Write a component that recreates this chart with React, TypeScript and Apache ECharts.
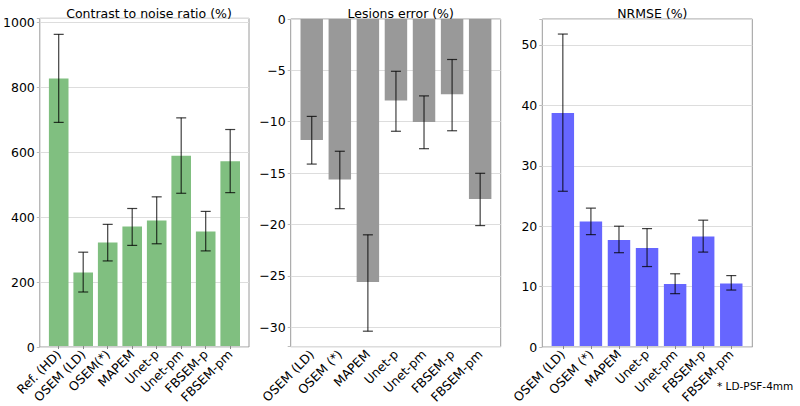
import React, { useEffect, useRef } from "react";
import * as echarts from "echarts";

const cnrCategories = ["Ref. (HD)", "OSEM (LD)", "OSEM(*)", "MAPEM", "Unet-p", "Unet-pm", "FBSEM-p", "FBSEM-pm"];
const cnrValues = [827, 227, 320, 369, 388, 588, 354, 571];
const cnrLow = [691, 167, 263, 311, 316, 472, 294, 474];
const cnrHigh = [963, 290, 376, 425, 461, 705, 416, 669];

const errCategories = ["OSEM (LD)", "OSEM (*)", "MAPEM", "Unet-p", "Unet-pm", "FBSEM-p", "FBSEM-pm"];
const errValues = [-11.8, -15.65, -25.65, -7.95, -10.05, -7.35, -17.55];
const errLow = [-14.15, -18.5, -30.45, -10.95, -12.65, -10.9, -20.15];
const errHigh = [-9.5, -12.9, -21.05, -5.1, -7.5, -3.95, -15.05];

const nrmseCategories = ["OSEM (LD)", "OSEM (*)", "MAPEM", "Unet-p", "Unet-pm", "FBSEM-p", "FBSEM-pm"];
const nrmseValues = [38.7, 20.7, 17.6, 16.3, 10.3, 18.2, 10.4];
const nrmseLow = [25.7, 18.5, 15.5, 13.2, 8.7, 15.6, 9.3];
const nrmseHigh = [51.8, 22.9, 19.9, 19.5, 12.0, 20.9, 11.7];

const titles = ["Contrast to noise ratio (%)", "Lesions error (%)", "NRMSE (%)"];
const footnote = "* LD-PSF-4mm";

const FONT = "DejaVu Sans";

export default function App() {
  const ref = useRef<HTMLDivElement>(null);
  useEffect(() => {
    if (!ref.current) return;
    const chart = echarts.init(ref.current, undefined, { renderer: "svg" });

    const panels = [
      {
        cats: cnrCategories, vals: cnrValues, lo: cnrLow, hi: cnrHigh,
        color: "#80bf80", sign: 1, min: 0, max: 1012.6, interval: 200, inverse: false,
        frame: { left: 39, width: 210, top: 18.3, height: 328.7 },
        data: { left: 46.45, width: 196 },
        title: titles[0], titleX: 144,
      },
      {
        cats: errCategories, vals: errValues, lo: errLow, hi: errHigh,
        color: "#999999", sign: -1, min: 0, max: 31.9, interval: 5, inverse: true,
        frame: { left: 290.7, width: 210, top: 19, height: 327.7 },
        data: { left: 297.7, width: 196.5 },
        title: titles[1], titleX: 395.7,
      },
      {
        cats: nrmseCategories, vals: nrmseValues, lo: nrmseLow, hi: nrmseHigh,
        color: "#6666ff", sign: 1, min: 0, max: 54.3, interval: 10, inverse: false,
        frame: { left: 542.3, width: 210, top: 19, height: 328 },
        data: { left: 548.8, width: 196.5 },
        title: titles[2], titleX: 647.3,
      },
    ];

    const grid: any[] = [];
    const xAxis: any[] = [];
    const yAxis: any[] = [];
    const series: any[] = [];
    const title: any[] = [];

    panels.forEach((p, i) => {
      const fi = i * 2;
      const di = i * 2 + 1;
      grid.push({
        left: p.frame.left, width: p.frame.width, top: p.frame.top, height: p.frame.height,
        show: true, borderColor: "#9a9a9a", borderWidth: 1, backgroundColor: "transparent",
      });
      grid.push({
        left: p.data.left, width: p.data.width, top: p.frame.top, height: p.frame.height,
        show: false,
      });
      xAxis.push({ type: "value", gridIndex: fi, show: false, min: 0, max: 1 });
      xAxis.push({
        type: "category", gridIndex: di, data: p.cats, boundaryGap: true,
        axisLine: { show: false },
        axisTick: { show: true, alignWithLabel: true, length: 3, lineStyle: { color: "#888" } },
        axisLabel: {
          rotate: 45, margin: 6, color: "#000", fontFamily: FONT, fontSize: 12.5, interval: 0,
        },
        splitLine: { show: false },
      });
      const fmt = (v: number) => {
        if (Math.abs(v / p.interval - Math.round(v / p.interval)) > 1e-6) return "";
        const r = Math.round(v);
        if (p.sign < 0 && r !== 0) return "\u2212" + r;
        return String(r);
      };
      yAxis.push({
        type: "value", gridIndex: fi, min: p.min, max: p.max, interval: p.interval, inverse: p.inverse,
        axisLine: { show: false },
        axisTick: { show: true, length: 3, lineStyle: { color: "#bbbbbb" } },
        axisLabel: { formatter: fmt, color: "#000", fontFamily: FONT, fontSize: 12.5, margin: 5, showMaxLabel: true },
        splitLine: { show: true, lineStyle: { color: "#dddddd", width: 1 } },
      });
      yAxis.push({
        type: "value", gridIndex: di, min: p.min, max: p.max, inverse: p.inverse, show: false,
        splitLine: { show: false },
      });
      series.push({
        type: "bar", xAxisIndex: di, yAxisIndex: di,
        data: p.vals.map((v) => v * p.sign),
        barWidth: "80%",
        itemStyle: { color: p.color },
        silent: true,
      });
      series.push({
        type: "custom", xAxisIndex: di, yAxisIndex: di,
        data: p.lo.map((l, k) => [k, l * p.sign, p.hi[k] * p.sign]),
        encode: { x: 0, y: [1, 2] },
        z: 5,
        renderItem: (params: any, api: any) => {
          const idx = api.value(0);
          const a = api.coord([idx, api.value(1)]);
          const b = api.coord([idx, api.value(2)]);
          const cap = 5;
          const style = { stroke: "rgba(0,0,0,0.75)", lineWidth: 1.2 };
          return {
            type: "group",
            children: [
              { type: "line", shape: { x1: a[0], y1: a[1], x2: b[0], y2: b[1] }, style },
              { type: "line", shape: { x1: a[0] - cap, y1: a[1], x2: a[0] + cap, y2: a[1] }, style },
              { type: "line", shape: { x1: b[0] - cap, y1: b[1], x2: b[0] + cap, y2: b[1] }, style },
            ],
          };
        },
      });
      title.push({
        text: p.title, left: p.titleX, top: 2, textAlign: "center",
        textStyle: { fontFamily: FONT, fontSize: 12.5, fontWeight: "normal", color: "#000" },
      });
    });

    chart.setOption({
      animation: false,
      backgroundColor: "#ffffff",
      title,
      grid,
      xAxis,
      yAxis,
      series,
      graphic: [
        {
          type: "text", left: 717, top: 380,
          style: { text: footnote, fontFamily: FONT, fontSize: 10.5, fill: "#000" },
        },
      ],
    });
    return () => chart.dispose();
  }, []);
  return <div ref={ref} style={{ width: 800, height: 406, position: "absolute", left: 0, top: 0 }} />;
}
